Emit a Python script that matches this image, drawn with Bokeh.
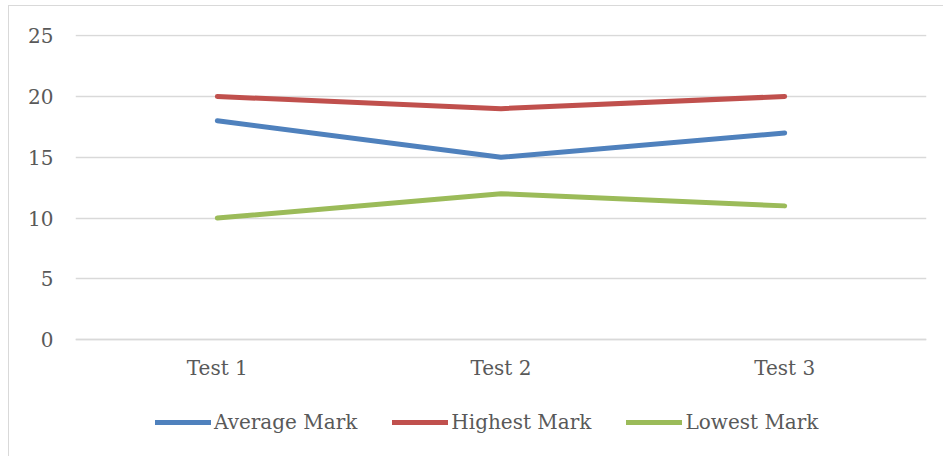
from bokeh.plotting import figure
from bokeh.models import Legend, LegendItem, FixedTicker, Range1d
from bokeh.embed import file_html
from bokeh.resources import INLINE

categories = ["Test 1", "Test 2", "Test 3"]
average_mark = [18, 15, 17]
highest_mark = [20, 19, 20]
lowest_mark = [10, 12, 11]
y_ticks = [0, 5, 10, 15, 20, 25]

FONT = "DejaVu Serif"
TXT = "#595959"
GRID = "#d9d9d9"

# frame extends below zero to hold the bottom legend
p = figure(x_range=categories, y_range=Range1d(-9.62, 25.1), frame_width=851, frame_height=422,
           output_backend="svg", toolbar_location=None,
           min_border_left=66, min_border_right=17, min_border_top=28, min_border_bottom=0)
p.margin = (5, 0, 0, 8)
p.styles = {"border-top": "1px solid #d9d9d9", "border-left": "1px solid #d9d9d9"}
p.outline_line_color = None
p.background_fill_color = "white"
p.border_fill_color = "white"

r_avg = p.line(categories, average_mark, line_color="#4F81BD", line_width=5, line_cap="round", line_join="round")
r_hi = p.line(categories, highest_mark, line_color="#C0504D", line_width=5, line_cap="round", line_join="round")
r_lo = p.line(categories, lowest_mark, line_color="#9BBB59", line_width=5, line_cap="round", line_join="round")

p.xgrid.grid_line_color = None
p.ygrid.grid_line_color = GRID
p.ygrid.grid_line_width = 1.5
p.yaxis.ticker = FixedTicker(ticks=y_ticks)

for ax in (p.xaxis, p.yaxis):
    ax.major_label_text_font = FONT
    ax.major_label_text_font_size = "20px"
    ax.major_label_text_color = TXT
    ax.major_tick_line_color = None
    ax.minor_tick_line_color = None
p.yaxis.axis_line_color = None
p.yaxis.major_label_standoff = 16
p.xaxis.fixed_location = 0
p.xaxis.axis_line_color = GRID
p.xaxis.axis_line_width = 1.5
p.xaxis.major_label_standoff = 10

legend = Legend(items=[LegendItem(label="Average Mark", renderers=[r_avg]),
                       LegendItem(label="Highest Mark", renderers=[r_hi]),
                       LegendItem(label="Lowest Mark", renderers=[r_lo])],
                orientation="horizontal", location=(80, 22),
                glyph_width=56, glyph_height=20, label_standoff=3, spacing=35,
                label_text_font=FONT, label_text_font_size="20px", label_text_color=TXT,
                border_line_color=None, background_fill_alpha=0, padding=0, margin=0)
p.add_layout(legend, "center")

open("out.html", "w").write(file_html(p, INLINE))
